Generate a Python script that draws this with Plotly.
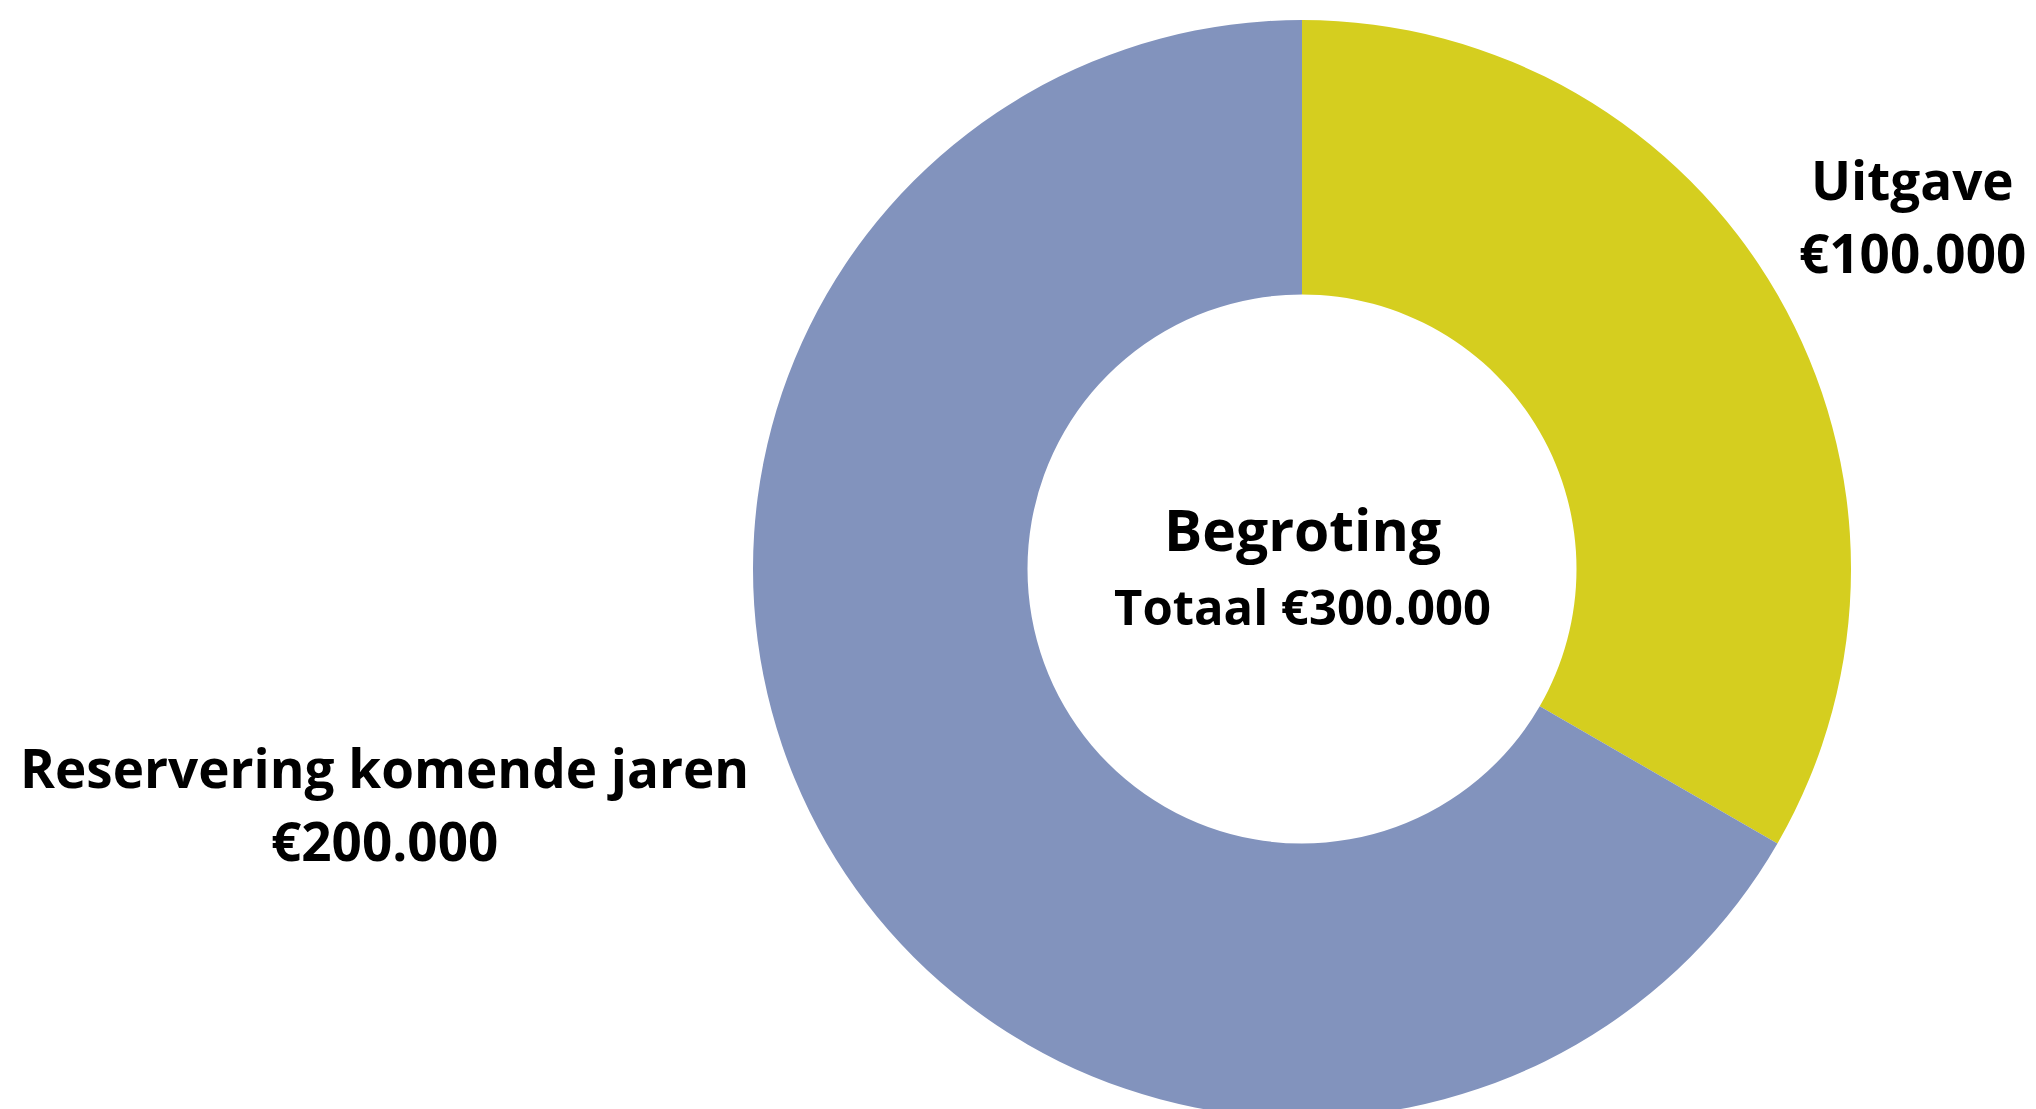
import plotly.graph_objects as go

# Data
labels = ["Uitgave", "Reservering komende jaren"]
values = [100000, 200000]
colors = ["#D5CE1F", "#8293BD"]
center_title = "Begroting"
total_value = sum(values)


def euro(v):
    return "€" + f"{v:,}".replace(",", ".")


W, H = 2036, 1118
cx, cy, r = 1302, 569, 549

fig = go.Figure(
    go.Pie(
        labels=labels,
        values=values,
        marker=dict(colors=colors, line=dict(width=0)),
        hole=0.5,
        sort=False,
        direction="clockwise",
        rotation=0,
        textinfo="none",
        hoverinfo="label+value",
        showlegend=False,
        domain=dict(x=[(cx - r) / W, (cx + r) / W], y=[0, 1 - (cy - r) / H]),
    )
)

font_family = "Open Sans, Noto Sans, sans-serif"


def ann(text, x_px, mid_px, size):
    fig.add_annotation(
        text=text,
        x=x_px / W,
        y=1 - mid_px / H,
        xref="paper",
        yref="paper",
        xanchor="center",
        yanchor="middle",
        showarrow=False,
        font=dict(family=font_family, size=size, color="#000000", weight=700),
    )


# slice labels
ann(labels[0], 1912, 179, 53)
ann(euro(values[0]), 1912, 252, 53)
ann(labels[1], 384, 767, 53)
ann(euro(values[1]), 384, 840, 53)
# centre labels
ann(center_title, cx, 529, 57)
ann("Totaal " + euro(total_value), cx, 606, 49)

fig.update_layout(
    width=W,
    height=H,
    margin=dict(l=0, r=0, t=0, b=0),
    paper_bgcolor="white",
    plot_bgcolor="white",
)

fig.write_html(
    "out.html",
    config={"displayModeBar": False},
    post_script="document.body.style.margin='0';document.body.style.overflow='hidden';",
)
